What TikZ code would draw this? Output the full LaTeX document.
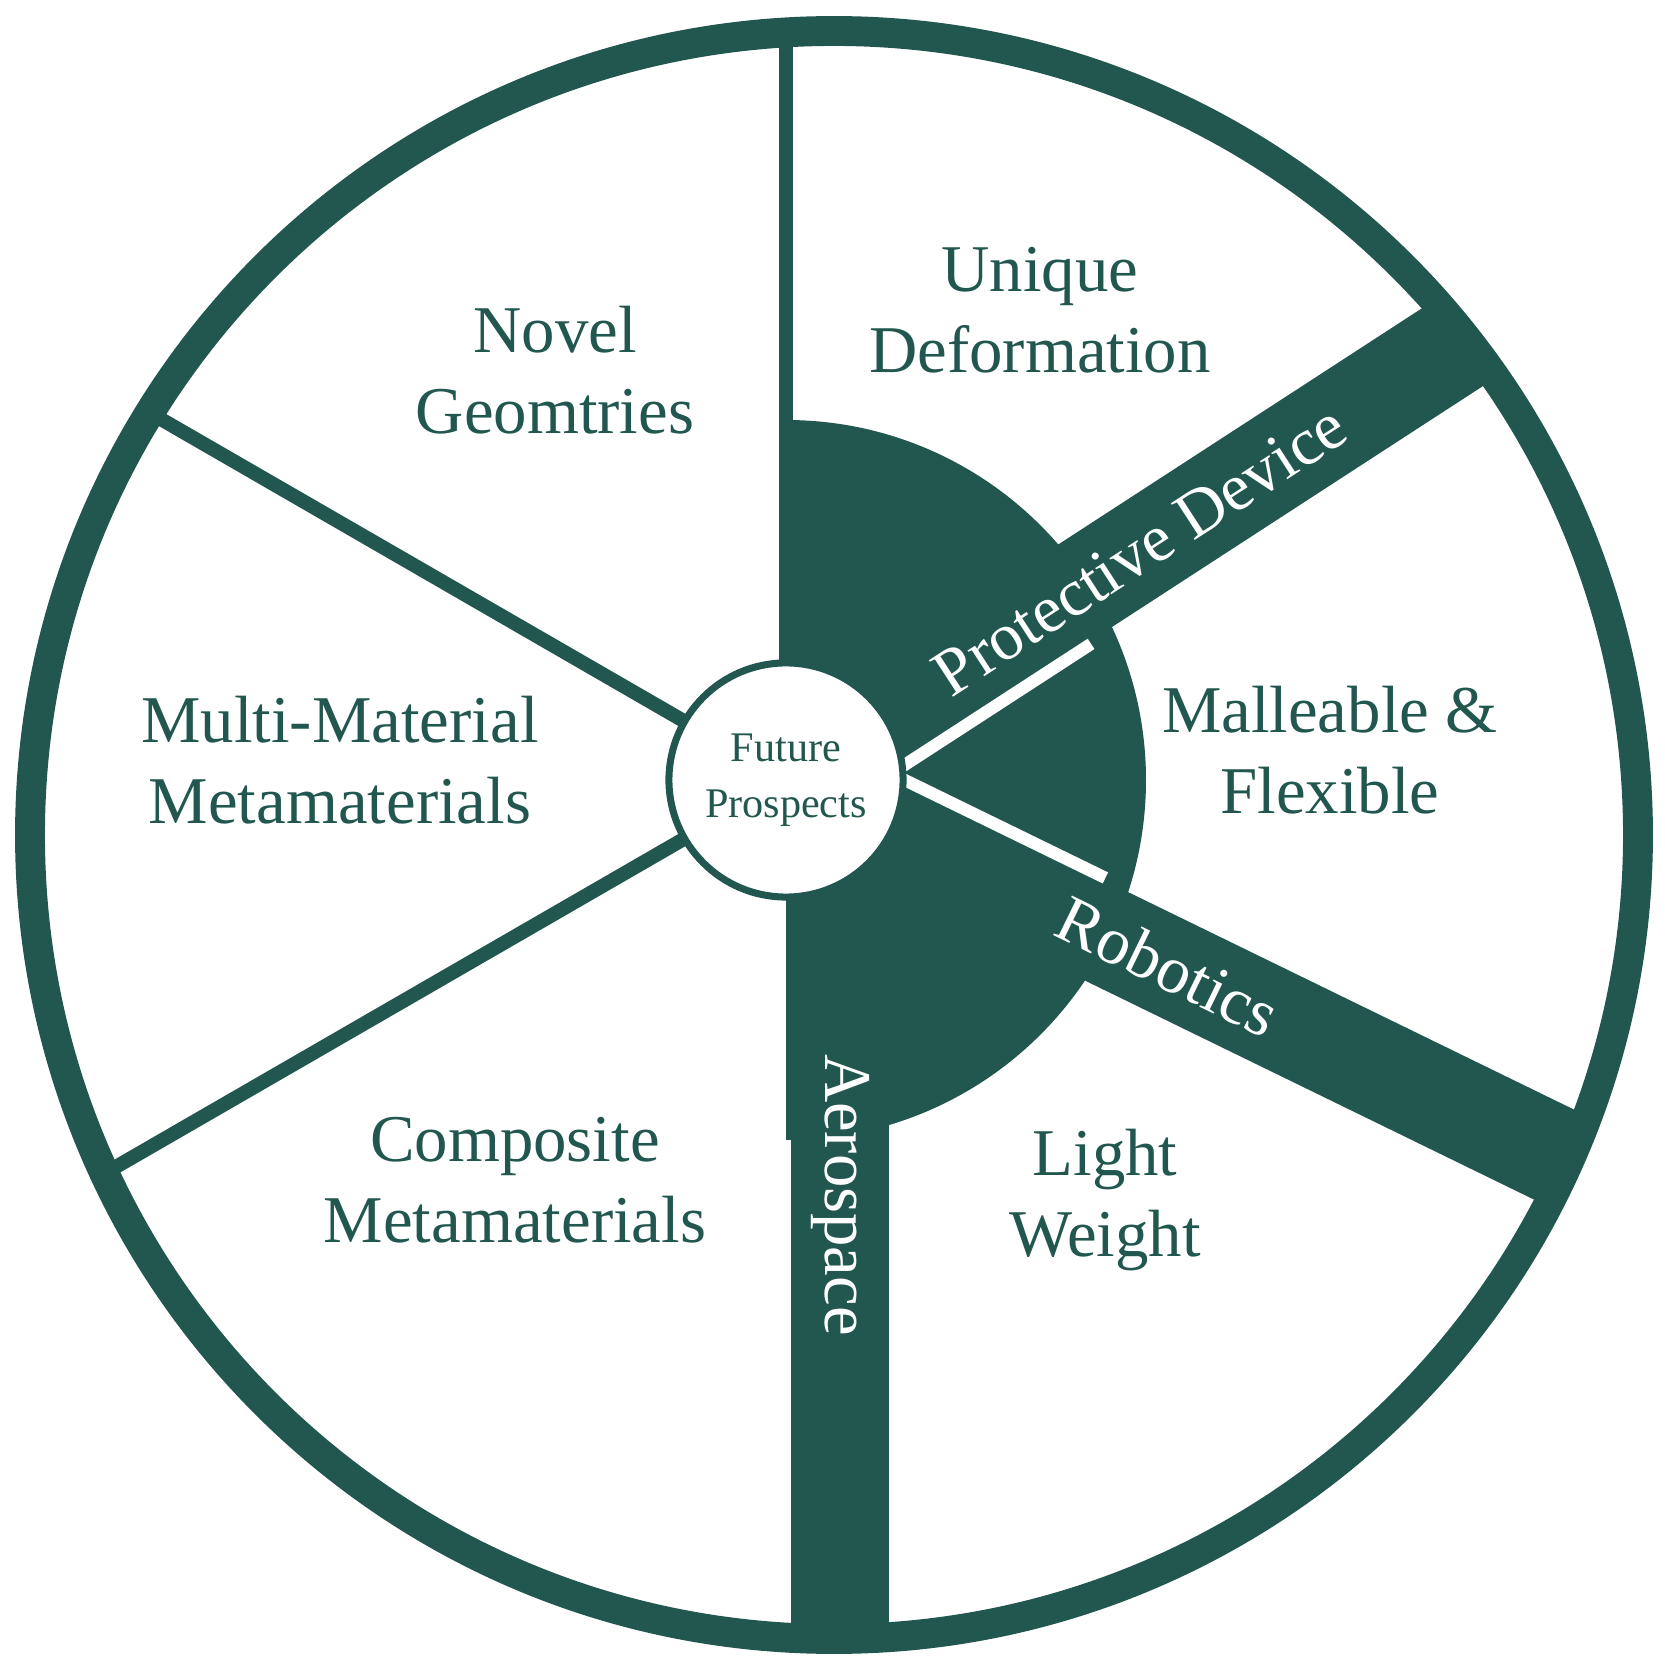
\documentclass[tikz,border=0pt]{standalone}
\usepackage{fontspec}
\setmainfont{Liberation Serif}
\usetikzlibrary{calc}
\definecolor{pine}{HTML}{22574F}
\tikzset{
  label/.style={text=pine, align=center, font=\fontsize{19}{23}\selectfont},
  band/.style={text=white, font=\fontsize{19}{23}\selectfont},
  bar/.style={pine, line width=28pt},
  spoke/.style={pine, line width=4pt},
  gap/.style={white, line width=3.5pt}
}
\begin{document}
\begin{tikzpicture}[x=0.01cm,y=0.01cm]
\useasboundingbox (0,0) rectangle (1665,1662);
\coordinate (o) at (834,827);
\coordinate (c) at (786,882);
% wheel
\begin{scope}
\clip (o) circle (808);
\fill[pine] (c) ++(90:360) arc (90:-90:360) -- cycle;
\draw[bar] (c) -- ++(33:1000);
\draw[bar] (c) -- ++(-26:1000);
\draw[bar] (840,882) -- (840,0);
\draw[spoke] (c) -- ++(90:1000);
\draw[spoke] (c) -- ++(150:1000);
\draw[spoke] (c) -- ++(210:1000);
\draw[gap] ($(c)+(-57:52)$) -- ++(33:330);
\draw[gap] ($(c)+(64:52)$) -- ++(-26:330);
\end{scope}
\draw[pine, line width=8.5pt] (o) circle (804);
\node[circle, draw=pine, line width=2pt, fill=white, minimum size=2.34cm,
  text=pine, align=center, font=\fontsize{12}{16}\selectfont] (hub) at (c) {Future\\Prospects};
% segments
\node[label] (novel) at (555,1292) {Novel\\Geomtries};
\node[label] (unique) at (1040,1352) {Unique\\Deformation};
\node[label] (multi) at (340,902) {Multi-Material\\Metamaterials};
\node[label] (mall) at (1330,912) {Malleable \&\\Flexible};
\node[label] (comp) at (515,482) {Composite\\Metamaterials};
\node[label] (light) at (1105,462) {Light\\Weight};
% bands
\node[band, rotate=33] (prot) at (1140,1112) {Protective Device};
\node[band, rotate=-26] (robo) at (1168,696) {Robotics};
\node[band, rotate=-90] (aero) at (840,467) {Aerospace};
\end{tikzpicture}
\end{document}
